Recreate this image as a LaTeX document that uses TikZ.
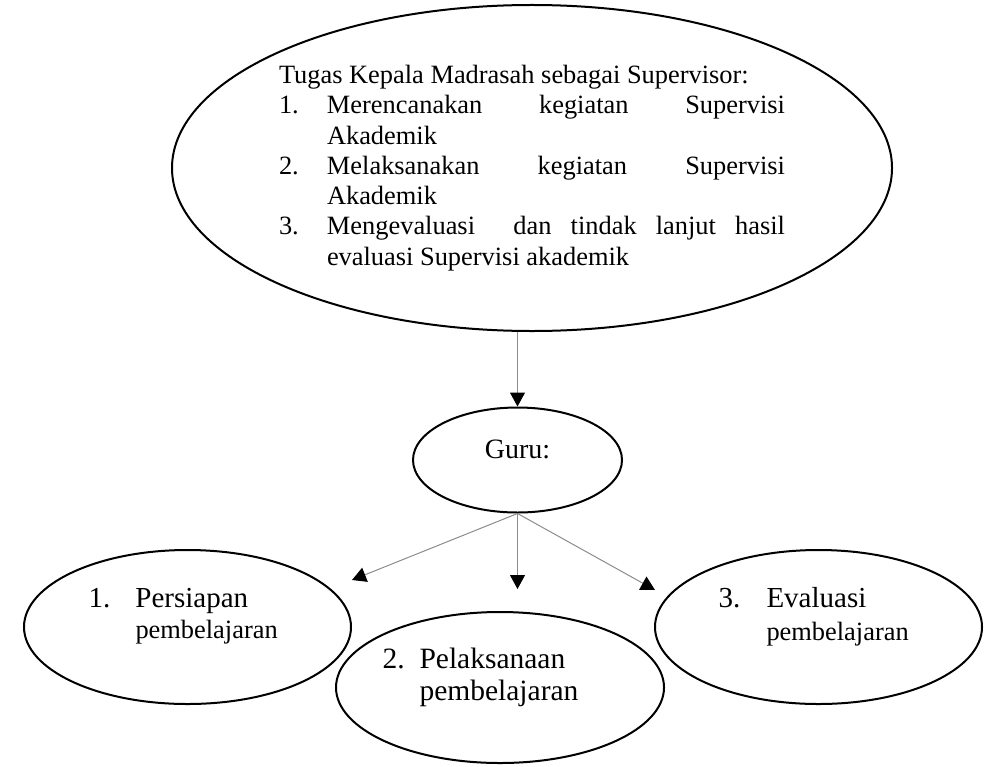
\documentclass[tikz,border=0pt]{standalone}
\usepackage{fontspec}
\setmainfont{Liberation Serif}
\usetikzlibrary{arrows.meta,positioning,shapes.geometric,calc}
\tikzset{
    conn/.style  = {-{Triangle[length=5.6pt, width=6pt, color=black]},
            draw=black!45, line width=0.4pt},
    oval/.style  = {ellipse, draw=black, line width=0.8pt, inner sep=0pt},
    lbl/.style   = {inner sep=0pt, anchor=base west},
}
\newcommand{\numitem}[2]{\makebox[19.2pt][l]{#1}\makebox[183.2pt][s]{#2}}

\begin{document}
\begin{tikzpicture}[x=0.4pt, y=-0.4pt]
    \useasboundingbox (0,0) rectangle (984,766);
    % Nodes
    \node[oval, minimum width=288pt, minimum height=130.4pt, align=left,
          font=\fontsize{10.56}{12.12}\selectfont] (tugas) at (532,168)
        {Tugas Kepala Madrasah sebagai Supervisor:\\
         \numitem{1.}{Merencanakan kegiatan Supervisi}\\
         \hspace*{19.2pt}Akademik\\
         \numitem{2.}{Melaksanakan kegiatan Supervisi}\\
         \hspace*{19.2pt}Akademik\\
         \numitem{3.}{Mengevaluasi\ \ dan tindak lanjut hasil}\\
         \hspace*{19.2pt}evaluasi Supervisi akademik};
    \node[oval, minimum width=83.6pt, minimum height=42pt] (guru) at (517.5,460) {};
    \node[lbl, anchor=base, font=\fontsize{11.2}{13}\selectfont] (guruText) at (517.5,458) {Guru:};

    \node[oval, minimum width=130.8pt, minimum height=61.6pt] (persiapan) at (187.5,627) {};
    \node[oval, minimum width=131.2pt, minimum height=60.4pt] (pelaksanaan) at (500,687.5) {};
    \node[oval, minimum width=130.8pt, minimum height=61.6pt] (evaluasi) at (818.5,627) {};

    \node[lbl] (persiapanText) at (88,607) {\fontsize{11.6}{12.4}\selectfont
        \begin{tabular}[t]{@{}p{18.8pt}@{}l@{}}1.&Persiapan\\
        &\fontsize{10.56}{12}\selectfont pembelajaran\end{tabular}};
    \node[lbl] (pelaksanaanText) at (382,668) {\fontsize{11.8}{12.8}\selectfont
        \begin{tabular}[t]{@{}p{14.8pt}@{}l@{}}2.&Pelaksanaan\\
        &pembelajaran\end{tabular}};
    \node[lbl] (evaluasiText) at (718,607) {\fontsize{11.6}{13.2}\selectfont
        \begin{tabular}[t]{@{}p{19.2pt}@{}l@{}}3.&Evaluasi\\
        &\fontsize{10.56}{12}\selectfont pembelajaran\end{tabular}};

    % Arrows
    \coordinate (tipA) at (352,580);
    \coordinate (tipB) at (517.5,589);
    \coordinate (tipC) at (655,590);
    \draw[conn] (tugas.south -| guru.north) -- (guru.north);
    \draw[conn] (guru.south) -- (tipA);
    \draw[conn] (guru.south) -- (tipB);
    \draw[conn] (guru.south) -- (tipC);
\end{tikzpicture}
\end{document}
